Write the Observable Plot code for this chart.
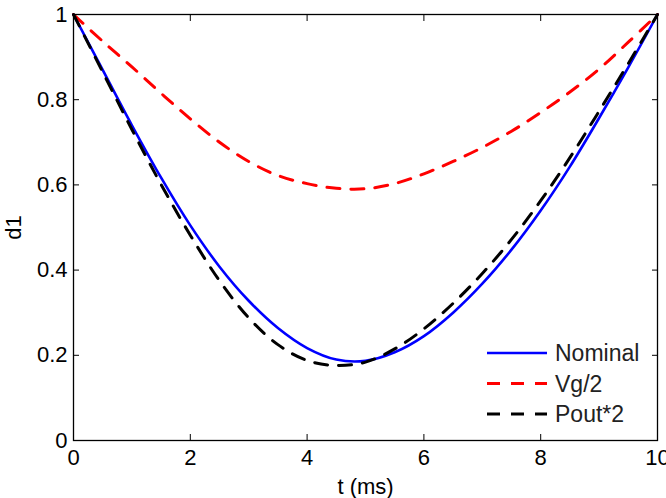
<!DOCTYPE html>
<html>
<head>
<meta charset="utf-8">
<script src="https://cdn.jsdelivr.net/npm/d3@7"></script>
<script src="https://cdn.jsdelivr.net/npm/@observablehq/plot@0.6"></script>
<style>
  body { margin: 0; background: #fff; }
  #chart { position: relative; width: 666px; height: 498px; font-family: "Liberation Sans", Arial, sans-serif; }
  #legend { position: absolute; left: 0; top: 0; pointer-events: none; }
</style>
</head>
<body>
<div id="chart"></div>
<script>
// Duty cycle d1 over one period for the nominal case and two perturbed cases
const t = [0, 0.5, 1, 1.5, 2, 2.5, 3, 3.5, 4, 4.5, 5, 5.5, 6, 6.5, 7, 7.5, 8, 8.5, 9, 9.5, 10];
const nominal    = [1, 0.870, 0.740, 0.617, 0.505, 0.408, 0.328, 0.264, 0.217, 0.190, 0.187, 0.207, 0.245, 0.300, 0.368, 0.448, 0.540, 0.643, 0.757, 0.876, 1];
const vgHalf     = [1, 0.937, 0.877, 0.815, 0.755, 0.700, 0.655, 0.622, 0.603, 0.592, 0.591, 0.603, 0.626, 0.655, 0.688, 0.726, 0.770, 0.818, 0.872, 0.935, 1];
const poutDouble = [1, 0.865, 0.730, 0.601, 0.482, 0.375, 0.288, 0.225, 0.188, 0.176, 0.184, 0.215, 0.262, 0.322, 0.392, 0.472, 0.563, 0.664, 0.773, 0.885, 1];

const seriesNames  = ["Nominal", "Vg/2", "Pout*2"];
const seriesColors = ["#0000ff", "#ff0000", "#000000"];
const seriesDash   = [null, "13,11", "13,11"];
const seriesWidth  = [2.6, 3, 3];

const xTicks = [0, 2, 4, 6, 8, 10];
const xTickLabels = ["0", "2", "4", "6", "8", "10"];
const yTicks = [0, 0.2, 0.4, 0.6, 0.8, 1];
const yTickLabels = ["0", "0.2", "0.4", "0.6", "0.8", "1"];

const seriesValues = [nominal, vgHalf, poutDouble];
const rows = seriesNames.flatMap((name, k) =>
  t.map((ti, i) => ({series: name, t: ti, d: seriesValues[k][i]}))
);

const W = 666, H = 498;
const M = {left: 73, right: 9, top: 14, bottom: 58};

const plot = Plot.plot({
  width: W,
  height: H,
  marginLeft: M.left,
  marginRight: M.right,
  marginTop: M.top,
  marginBottom: M.bottom,
  style: {fontFamily: '"Liberation Sans", Arial, sans-serif', fontSize: "22px", color: "#000", background: "#fff"},
  x: {domain: [0, 10]},
  y: {domain: [0, 1]},
  marks: [
    ...seriesNames.map((name, k) =>
      Plot.line(rows.filter(r => r.series === name), {
        x: "t", y: "d",
        stroke: seriesColors[k],
        strokeWidth: seriesWidth[k],
        strokeDasharray: seriesDash[k],
        curve: "catmull-rom"
      })
    ),
    Plot.frame({stroke: "#000", strokeWidth: 1.3}),
    Plot.axisX(xTicks, {
      anchor: "bottom", tickSize: -6, tickPadding: 15,
      tickFormat: d => xTickLabels[xTicks.indexOf(d)],
      label: "t (ms)", labelAnchor: "center", labelOffset: 53, labelArrow: "none"
    }),
    Plot.axisX(xTicks, {anchor: "top", tickSize: -6, tickFormat: () => "", label: null}),
    Plot.axisY(yTicks, {
      anchor: "left", tickSize: -6, tickPadding: 12,
      tickFormat: d => yTickLabels[yTicks.indexOf(d)],
      label: "d1", labelAnchor: "center", labelOffset: 68, labelArrow: "none"
    }),
    Plot.axisY(yTicks, {anchor: "right", tickSize: -6, tickFormat: () => "", label: null})
  ]
});

const chart = document.getElementById("chart");
chart.appendChild(plot);

// Legend in the lower right of the axes box
const legend = d3.select(chart).append("svg")
  .attr("id", "legend")
  .attr("width", W)
  .attr("height", H);
const legendX = 487, legendY = 353, rowGap = 30.5, sampleLen = 60;
seriesNames.forEach((name, k) => {
  const y = legendY + k * rowGap;
  legend.append("line")
    .attr("x1", legendX).attr("x2", legendX + sampleLen)
    .attr("y1", y).attr("y2", y)
    .attr("stroke", seriesColors[k])
    .attr("stroke-width", seriesWidth[k])
    .attr("stroke-dasharray", seriesDash[k]);
  legend.append("text")
    .attr("x", legendX + sampleLen + 8)
    .attr("y", y)
    .attr("dy", "0.35em")
    .attr("font-family", '"Liberation Sans", Arial, sans-serif')
    .attr("font-size", 23)
    .attr("fill", "#222")
    .text(name);
});
</script>
</body>
</html>
